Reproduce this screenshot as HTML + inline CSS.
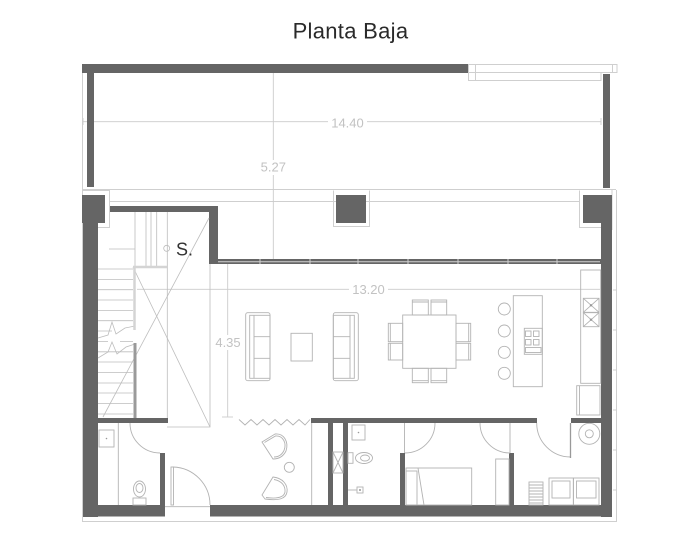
<!DOCTYPE html>
<html><head><meta charset="utf-8"><style>
html,body{margin:0;padding:0;background:#fff;}
svg{display:block;}
</style></head><body>
<svg width="700" height="538" viewBox="0 0 700 538" xmlns="http://www.w3.org/2000/svg">
<rect width="700" height="538" fill="#fff"/>
<text x="350.5" y="38.3" text-anchor="middle" font-family="Liberation Sans, sans-serif" font-size="22" letter-spacing="0.3" fill="#2a2a2a">Planta Baja</text>

<!-- light outline lines -->
<g fill="none" stroke="#cfcfcf" stroke-width="1">
  <path d="M82.5 64 V521.5 H616.5 V190"/>
  <path d="M468 64.5 H617 V72.5 H468 Z"/>
  <path d="M612.5 64 V73"/>
  <path d="M468.5 64 V80.5 H475.5 V64"/>
  <path d="M476 80.5 H601 V73"/>
  <path d="M82 189.5 H616"/>
  <path d="M109 201.5 H579"/>
  <path d="M82 190.5 H109.5 V227.5 H98"/>
  <path d="M333.5 190.5 V226.5 H369.5 V190.5"/>
  <path d="M579.5 190.5 V227.5 H601"/>
  <path d="M612 190 V230"/>
  <path d="M613 290 H617 M613 330 H617 M613 370 H617 M613 410 H617 M613 450 H617 M613 490 H617"/>
</g>

<!-- dimension lines -->
<g fill="none" stroke="#cccccc" stroke-width="0.9">
  <path d="M83 121.7 H328 M367 121.7 H601"/>
  <path d="M83 118 V125 M601 118 V125"/>
  <path d="M273.3 73 V160 M273.3 175 V259"/>
  <path d="M137 289.3 H349 M388 289.3 H600"/>
  <path d="M227.7 264 V335 M227.7 350 V417"/>
  <path d="M222 417 H233"/>
</g>
<g font-family="Liberation Sans, sans-serif" font-size="13" fill="#c2c2c2" text-anchor="middle">
  <text x="347.5" y="127.7">14.40</text>
  <text x="273.3" y="171.5">5.27</text>
  <text x="368.5" y="294">13.20</text>
  <text x="228" y="347">4.35</text>
</g>

<!-- walls -->
<g fill="#656565">
  <rect x="82" y="64" width="386" height="9"/>
  <rect x="87" y="73" width="7" height="114"/>
  <rect x="603" y="74" width="7" height="114"/>
  <rect x="82" y="195" width="23" height="28"/>
  <rect x="83" y="195" width="15" height="322"/>
  <rect x="336" y="195" width="30" height="28"/>
  <rect x="583" y="195" width="29" height="28"/>
  <rect x="601" y="195" width="11" height="322"/>
  <rect x="110" y="206" width="108" height="6"/>
  <rect x="209" y="206" width="9" height="57"/>
  <rect x="209" y="259" width="392" height="5"/>
  <rect x="98" y="418" width="70" height="5"/>
  <rect x="311" y="418" width="226" height="5"/>
  <rect x="571" y="418" width="30" height="5"/>
  <rect x="83" y="505" width="82" height="11.5"/>
  <rect x="210" y="505" width="391" height="11.5"/>
  <rect x="160" y="453" width="5" height="52"/>
  <rect x="400" y="453" width="5" height="52"/>
  <rect x="509" y="453" width="5" height="52"/>
  <rect x="328" y="423" width="5" height="82"/>
  <rect x="343" y="423" width="5" height="82"/>
</g>
<g stroke="#d0d0d0" stroke-width="1" fill="none">
  <path d="M218 261.7 H600"/>
  <path d="M260 259 V264 M310 259 V264 M358 259 V264 M408 259 V264 M458 259 V264 M508 259 V264 M557 259 V264"/>
</g>

<!-- stair -->
<g fill="none" stroke="#bdbdbd" stroke-width="0.8">
  <path d="M135 212 V267 M146 212 V267 M151 212 V267 M156.7 212 V267 M167.3 212 V418"/>
  <path d="M109 249 H135"/>
  <path d="M98 269 H133 M98 279.4 H133 M98 289.7 H133 M98 300 H133 M98 310.4 H133 M98 320.7 H133 M98 331 H112 M98 362 H133 M98 372.5 H133 M98 383 H133 M98 393 H133 M98 403.5 H133 M98 414 H133"/>
  <path d="M98 341.5 H108 M120 341.5 H133 M98 351.8 H133"/>
  <path d="M98 338 L108 335 L112 322 L116 334 L125 328 L135 326"/>
  <path d="M98 358 L108 352 L112 342 L117 354 L126 347 L135 344"/>
  <path d="M210 264 V427 H167"/>
  <path d="M133 267 L210 427"/>
  <path d="M209 218 L103 417"/>
  <circle cx="166.7" cy="248.3" r="3"/>
</g>
<path d="M133 267 H167" stroke="#d4d4d4" stroke-width="2.5"/>
<path d="M134.5 268 V330" stroke="#d4d4d4" stroke-width="2.5"/>
<path d="M135 343 V418" stroke="#9a9a9a" stroke-width="3"/>
<text x="176" y="255.5" font-family="Liberation Sans, sans-serif" font-size="18" fill="#333">S.</text>

<!-- furniture -->
<g fill="none" stroke="#b3b3b3" stroke-width="0.9">
  <rect x="245.7" y="312.7" width="24.3" height="68" rx="2"/>
  <rect x="249.7" y="315.3" width="20.3" height="63"/>
  <path d="M254 315.3 V378.3 M254 336.7 H270 M254 358.3 H270"/>
  <rect x="291" y="333.3" width="21.3" height="27.7"/>
  <rect x="333.3" y="312.7" width="25" height="68" rx="2"/>
  <rect x="333.3" y="315.3" width="21" height="63"/>
  <path d="M350 315.3 V378.3 M333.3 336.7 H350 M333.3 358.3 H350"/>
  <rect x="402.7" y="315" width="53.3" height="53.3"/>
  <rect x="412.3" y="300" width="16" height="15"/>
  <rect x="431" y="300" width="15.7" height="15"/>
  <rect x="412.3" y="368.3" width="16" height="14.4"/>
  <rect x="431" y="368.3" width="15.7" height="14.4"/>
  <rect x="388.3" y="323.3" width="14.4" height="18.4"/>
  <rect x="388.3" y="343.3" width="14.4" height="16.7"/>
  <rect x="456" y="323.3" width="14.7" height="18.4"/>
  <rect x="456" y="343.3" width="14.7" height="16.7"/>
  <path d="M412.3 302 H428.3 M431 302 H446.7 M412.3 380.7 H428.3 M431 380.7 H446.7 M390.3 323.3 V341.7 M390.3 343.3 V360 M468.7 323.3 V341.7 M468.7 343.3 V360"/>
  <circle cx="504.3" cy="309" r="6"/>
  <circle cx="504.3" cy="331" r="6"/>
  <circle cx="504.3" cy="352.3" r="6"/>
  <circle cx="504.3" cy="373.3" r="6"/>
  <rect x="513.3" y="295.7" width="29" height="91"/>
  <rect x="524.3" y="328.3" width="18" height="26"/>
  <rect x="525.5" y="331" width="5.5" height="5.5"/>
  <rect x="533.5" y="331" width="5.5" height="5.5"/>
  <rect x="525.5" y="339.5" width="5.5" height="5.5"/>
  <rect x="533.5" y="339.5" width="5.5" height="5.5"/>
  <rect x="525.5" y="347.5" width="15.5" height="5"/>
  <rect x="580.7" y="270" width="20" height="113.3"/>
  <rect x="583.3" y="298.3" width="15.7" height="14"/>
  <rect x="583.3" y="312.7" width="15.7" height="14"/>
  <path d="M583.3 298.3 L599 312.3 M599 298.3 L583.3 312.3 M583.3 312.7 L599 326.7 M599 312.7 L583.3 326.7"/>
  <rect x="576.7" y="385.7" width="23.3" height="29.3"/>
  <path d="M579.5 385.7 V415"/>

  <path d="M239 419.5 L245 425 L251 419.5 L257 425 L263 419.5 L269 425 L275 419.5 L281 425 L287 419.5 L293 425 L299 419.5 L305 425 L310 419.5"/>
  <path d="M262 442 L275 434 C284 433 289 442 286 451 C283 457 278 459 273 459 Z"/>
  <path d="M264.5 442.5 L275.5 436 C283 435.5 287 443 284 450.5 C281.5 455.5 277.5 457 274 457"/>
  <path d="M262 495 L273 477 C283 478 288 485 287 492 C286 499 278 501 265 499 Z"/>
  <path d="M274 479.5 C282 481 285.5 486 285 492 C284 497.5 277.5 499 266 497.5"/>
  <circle cx="289.3" cy="467.3" r="5"/>
  <path d="M311.7 423 V505"/>

  <rect x="99" y="430" width="15" height="17"/>
  <path d="M118.3 423 V505"/>
  <ellipse cx="139.5" cy="489" rx="6" ry="8"/>
  <ellipse cx="139.5" cy="488" rx="3.5" ry="4.5"/>
  <rect x="133" y="498" width="13" height="7"/>
  <path d="M130 423 A30 30 0 0 0 160 453"/>
  <rect x="171" y="467" width="2.5" height="38"/>
  <path d="M173 467 A38 38 0 0 1 210 505"/>
  <path d="M165 506.7 H210"/>

  <rect x="333" y="452" width="10" height="21"/>
  <path d="M333 452 L343 473 M343 452 L333 473"/>
  <rect x="352" y="425" width="13" height="15"/>
  <rect x="348" y="452.7" width="5" height="10.6"/>
  <ellipse cx="364" cy="458" rx="8.5" ry="5.5"/>
  <ellipse cx="365" cy="458" rx="4.5" ry="3"/>
  <rect x="357" y="487" width="6" height="6"/>
  <path d="M348 490 H357"/>
  <path d="M404.5 423 V453"/>
  <path d="M405 453 A30 30 0 0 0 435 423"/>
  <rect x="406" y="468" width="65.7" height="37"/>
  <rect x="406" y="471" width="11" height="34"/>
  <path d="M418 468 L424 505"/>
  <path d="M480 423 A30 30 0 0 0 510 453"/>
  <path d="M510 423 V453"/>
  <rect x="495.7" y="459" width="13.3" height="46"/>
  <path d="M536.7 423 A34 34 0 0 0 570.7 457"/>
  <circle cx="589.3" cy="433.8" r="10.5"/>
  <circle cx="589.3" cy="433.8" r="4"/>
  <rect x="549" y="478" width="24.3" height="27"/>
  <rect x="573.5" y="478" width="25.5" height="27"/>
  <rect x="552" y="481" width="18" height="17"/>
  <rect x="576.5" y="481" width="19.5" height="17"/>
  <rect x="529" y="482" width="14" height="23"/>
  <path d="M529 485 H543 M529 488 H543 M529 491 H543 M529 494 H543 M529 497 H543 M529 500 H543 M529 503 H543"/>
</g>
<path d="M570.5 423 V458" stroke="#999" stroke-width="1.3"/>
<g fill="#999">
  <circle cx="106.5" cy="438.5" r="0.8"/>
  <circle cx="358.5" cy="432.5" r="0.8"/>
  <circle cx="360" cy="490" r="1"/>
  <circle cx="591" cy="305.3" r="1.2"/>
  <circle cx="591" cy="319.7" r="1.2"/>
</g>
</svg>
</body></html>
